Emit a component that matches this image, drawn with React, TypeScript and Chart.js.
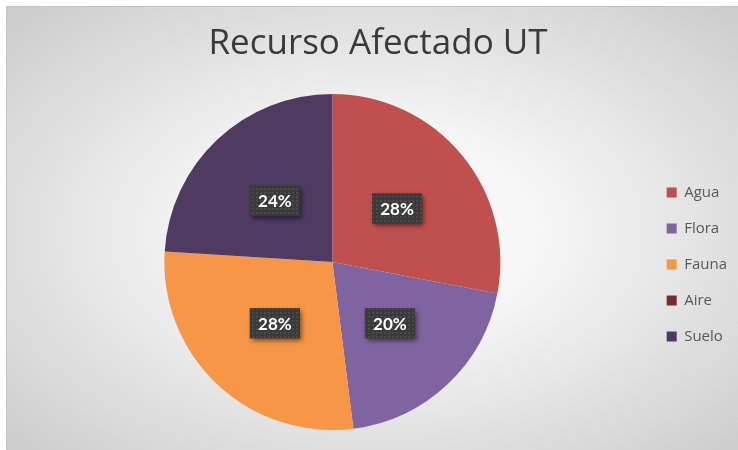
import React, { useEffect, useRef } from "react";
import { Chart, registerables } from "chart.js";

Chart.register(...registerables);

const categories = ["Agua", "Flora", "Fauna", "Aire", "Suelo"];
const counts = [7, 5, 7, 0, 6];
const colors = ["#C0504D", "#8064A2", "#F79646", "#772C2A", "#4F3B62"];
const titleText = "Recurso Afectado UT";

function makePattern(ctx: CanvasRenderingContext2D) {
  const tile = document.createElement("canvas");
  tile.width = 4;
  tile.height = 4;
  const t = tile.getContext("2d")!;
  t.fillStyle = "#3a3a3a";
  t.fillRect(0, 0, 4, 4);
  t.fillStyle = "#4a4a4a";
  t.fillRect(0, 0, 2, 2);
  return ctx.createPattern(tile, "repeat");
}

const legendShift = {
  id: "legendShift",
  afterLayout(chart: any) {
    if (chart.legend) {
      chart.legend.top = chart.chartArea.top + 5;
    }
  },
};

const labelPlugin = {
  id: "pctLabels",
  afterDatasetsDraw(chart: any) {
    const ctx: CanvasRenderingContext2D = chart.ctx;
    const meta = chart.getDatasetMeta(0);
    const data = chart.data.datasets[0].data as number[];
    const total = data.reduce((a, b) => a + b, 0);
    const pattern = makePattern(ctx);
    meta.data.forEach((arc: any, i: number) => {
      const v = data[i];
      if (!v) return;
      const pos = arc.tooltipPosition();
      const text = Math.round((v / total) * 100) + "%";
      const w = 50;
      const h = 30;
      ctx.save();
      ctx.shadowColor = "rgba(0,0,0,0.55)";
      ctx.shadowBlur = 5;
      ctx.shadowOffsetX = 2;
      ctx.shadowOffsetY = 3;
      ctx.fillStyle = "#3a3a3a";
      ctx.fillRect(pos.x - w / 2, pos.y - h / 2, w, h);
      ctx.restore();
      ctx.save();
      ctx.fillStyle = pattern || "#3a3a3a";
      ctx.fillRect(pos.x - w / 2, pos.y - h / 2, w, h);
      ctx.fillStyle = "#ffffff";
      ctx.font = "bold 17px Lato, 'Open Sans', sans-serif";
      ctx.textAlign = "center";
      ctx.textBaseline = "middle";
      ctx.fillText(text, pos.x, pos.y + 1);
      ctx.restore();
    });
  },
};

export default function App() {
  const ref = useRef<HTMLCanvasElement | null>(null);
  useEffect(() => {
    if (!ref.current) return;
    const chart = new Chart(ref.current, {
      type: "pie",
      data: {
        labels: categories,
        datasets: [
          {
            data: counts,
            backgroundColor: colors,
            borderWidth: 0,
          },
        ],
      },
      options: {
        animation: false,
        responsive: false,
        maintainAspectRatio: false,
        layout: { padding: { left: 19, right: 1, top: 0, bottom: 20 } },
        plugins: {
          title: {
            display: true,
            text: titleText,
            color: "#3a3a3a",
            font: { family: "'Open Sans', sans-serif", size: 35, weight: "normal", lineHeight: 1.2 },
            padding: { top: 23, bottom: 29 },
          },
          legend: {
            position: "right",
            labels: {
              boxWidth: 10,
              boxHeight: 10,
              padding: 21,
              color: "#595959",
              font: { family: "'Open Sans', sans-serif", size: 15 },
            },
          },
          tooltip: { enabled: false },
        },
      },
      plugins: [labelPlugin, legendShift],
    });
    return () => chart.destroy();
  }, []);
  return (
    <div style={{ position: "fixed", left: 0, top: 0, width: 738, height: 450, overflow: "hidden" }}>
      <div
        style={{
          position: "absolute",
          left: 6,
          top: 6,
          width: 740,
          height: 450,
          border: "1px solid #c4c4c4",
          background:
            "radial-gradient(ellipse farthest-corner at 50% 50%, #ffffff 0%, #f4f4f4 35%, #cbcbcb 100%)",
        }}
      />
      <canvas ref={ref} width={738} height={450} style={{ position: "absolute", left: 0, top: 0 }} />
    </div>
  );
}
